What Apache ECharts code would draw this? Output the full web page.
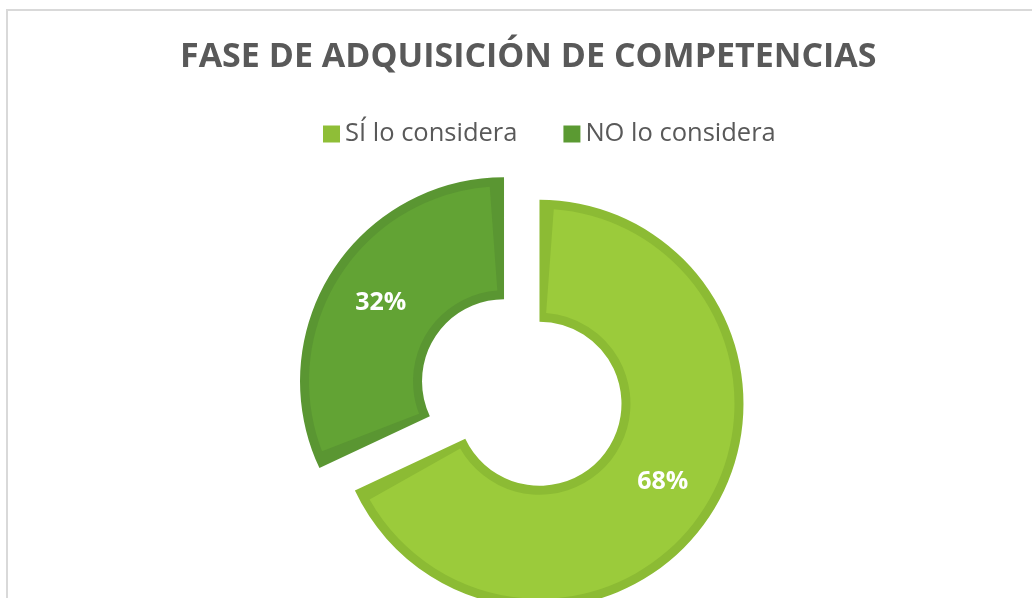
<!DOCTYPE html>
<html>
<head>
<meta charset="utf-8">
<script src="https://cdn.jsdelivr.net/npm/echarts@6/dist/echarts.min.js"></script>
<style>
  html, body { margin: 0; padding: 0; background: #fff; }
  #main { width: 1032px; height: 598px; }
</style>
</head>
<body>
<div id="main"></div>
<script>
// datos del grafico
var categories = ['SÍ lo considera', 'NO lo considera'];
var shares = [68, 32];
var fillColors = ['#9bcb3b', '#62a334'];
var bandColors = ['#8cbb34', '#5a9632'];
var legendColors = ['#8fbe37', '#5b9a32'];

var chart = echarts.init(document.getElementById('main'));

var total = shares.reduce(function (a, b) { return a + b; }, 0);
// pequeno hueco angular para que se vea el borde oscuro en los lados rectos
var gap = 4.2 / 360 * total;

var outerData = categories.map(function (name, i) {
  return { name: name, value: shares[i], selected: true, itemStyle: { color: bandColors[i] } };
});

var innerData = [];
categories.forEach(function (name, i) {
  innerData.push({ name: '', value: gap, itemStyle: { color: 'transparent' }, label: { show: false } });
  innerData.push({ name: name, value: shares[i] - 2 * gap, selected: true, itemStyle: { color: fillColors[i] } });
  innerData.push({ name: '', value: gap, itemStyle: { color: 'transparent' }, label: { show: false } });
});

var common = {
  type: 'pie',
  center: [521.75, 392.5],
  startAngle: 90,
  clockwise: true,
  selectedMode: 'multiple',
  selectedOffset: 21,
  avoidLabelOverlap: false,
  labelLine: { show: false },
  emphasis: { disabled: true, scale: false },
  select: { itemStyle: { borderWidth: 0 } },
  itemStyle: { borderWidth: 0 }
};

chart.setOption({
  animation: false,
  title: {
    text: 'FASE DE ADQUISICIÓN DE COMPETENCIAS',
    left: 175,
    top: 35,
    textStyle: { fontFamily: 'Open Sans', fontSize: 34, fontWeight: 'bold', color: '#595959' }
  },
  legend: {
    left: 318,
    top: 116,
    icon: 'rect',
    itemWidth: 17,
    itemHeight: 17,
    itemGap: 46,
    selectedMode: false,
    textStyle: { fontFamily: 'Open Sans', fontSize: 25.5, color: '#595959' },
    data: categories.map(function (name, i) {
      return { name: name, itemStyle: { color: legendColors[i] } };
    })
  },
  graphic: [{
    type: 'rect',
    silent: true,
    z: -1,
    shape: { x: 7, y: 10, width: 1200, height: 800 },
    style: { fill: 'none', stroke: '#d9d9d9', lineWidth: 2 }
  }],
  series: [
    Object.assign({}, common, {
      name: 'borde',
      radius: [82, 204],
      label: { show: false },
      data: outerData
    }),
    Object.assign({}, common, {
      name: 'relleno',
      radius: [91, 195],
      label: {
        show: true,
        position: 'inside',
        fontFamily: 'Open Sans',
        fontSize: 25,
        fontWeight: 'bold',
        color: '#ffffff',
        formatter: function (p) {
          return shares[categories.indexOf(p.name)] + '%';
        }
      },
      data: innerData
    })
  ]
});
</script>
</body>
</html>
